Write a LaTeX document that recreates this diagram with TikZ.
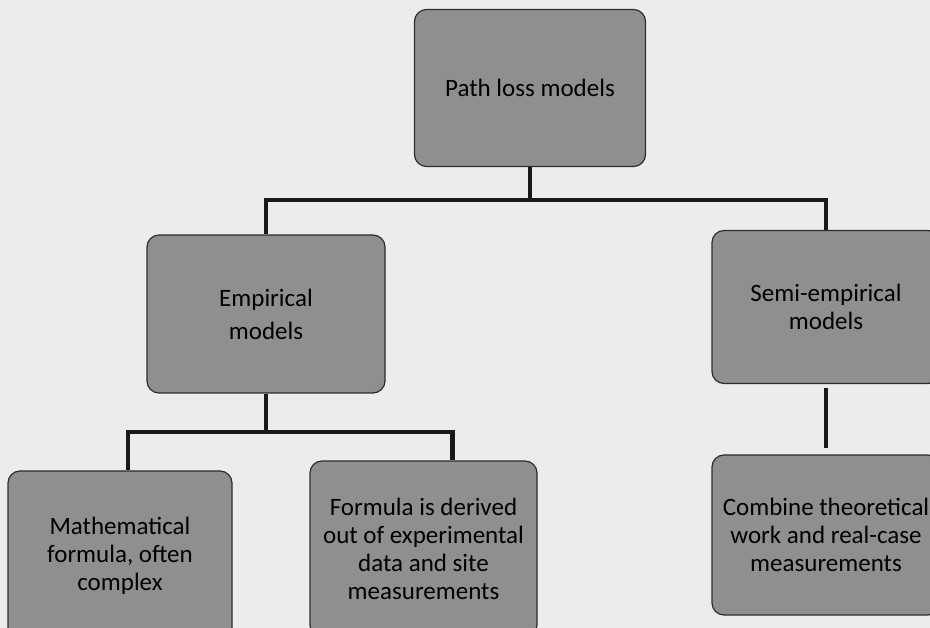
\documentclass[tikz,border=0pt]{standalone}
\usepackage{fontspec}
\setmainfont{Carlito}
\definecolor{bg}{RGB}{236,236,236}
\definecolor{boxfill}{RGB}{143,143,143}
\definecolor{boxline}{RGB}{45,45,45}
\begin{document}
\begin{tikzpicture}[x=1pt,y=-1pt,
  box/.style={draw=boxline, line width=1.2pt, fill=boxfill, rounded corners=12pt,
    align=center, font=\fontsize{25}{28}\selectfont, text=black, inner sep=0pt},
  link/.style={line width=4.5pt, draw=black!90}]
\clip (0,0) rectangle (930,628);
\fill[bg] (0,0) rectangle (930,628);
\node[box, minimum width=231pt, minimum height=157pt] (top) at (530,88) {Path loss models};
\node[box, minimum width=238pt, minimum height=158pt, font=\fontsize{25}{33}\selectfont] (emp) at (266,314) {Empirical\\models};
\node[box, minimum width=228pt, minimum height=153pt] (semi) at (826,307) {Semi-empirical\\models};
\node[box, minimum width=224pt, minimum height=170pt] (math) at (120,556) {Mathematical\\formula, often\\complex};
\node[box, minimum width=227pt, minimum height=176pt] (form) at (423.5,549) {Formula is derived\\out of experimental\\data and site\\measurements};
\node[box, minimum width=228pt, minimum height=160pt] (comb) at (826,535) {Combine theoretical\\work and real-case\\measurements};
\coordinate (j1) at (530,200);
\coordinate (j2) at (266,432);
\draw[link] (top.south) -- (j1) -| (emp.north);
\draw[link] (j1) -| (semi.north);
\draw[link] (emp.south) -- (j2) -| ([xshift=8pt]math.north);
\draw[link] (j2) -| ([xshift=29pt]form.north);
\draw[link] ([yshift=-4pt]semi.south) -- ([yshift=6pt]comb.north);
\end{tikzpicture}
\end{document}
